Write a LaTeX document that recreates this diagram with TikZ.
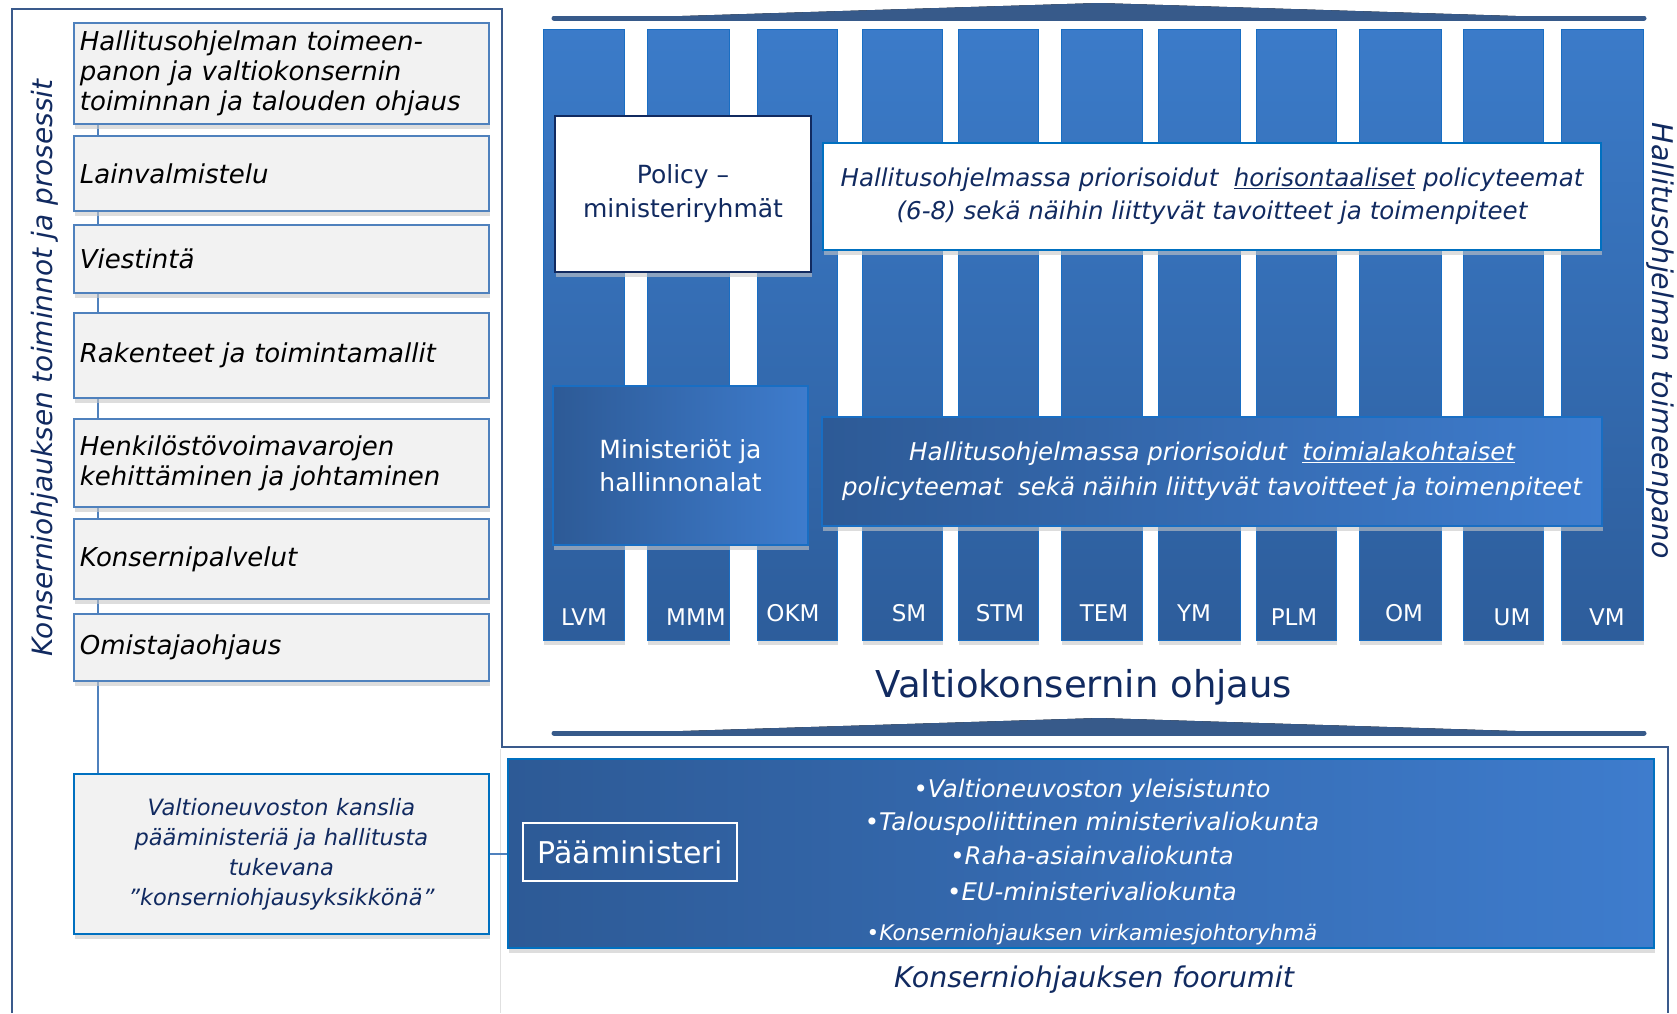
\documentclass[tikz,border=0pt]{standalone}
\usepackage{fontspec}
\setmainfont{DejaVu Sans}
\usetikzlibrary{shadows,backgrounds}

\definecolor{navy}{RGB}{17,42,96}
\definecolor{boxedge}{RGB}{79,129,189}
\definecolor{kansliaedge}{RGB}{0,112,192}
\definecolor{palegrey}{RGB}{242,242,242}
\definecolor{frameline}{RGB}{58,90,140}
\definecolor{bartop}{RGB}{59,123,201}
\definecolor{barbottom}{RGB}{45,93,155}
\definecolor{baredge}{RGB}{25,110,195}
\definecolor{deepblue}{RGB}{45,90,150}
\definecolor{lightblue}{RGB}{62,124,205}
\definecolor{bannerdark}{RGB}{55,90,138}
\definecolor{bannerlight}{RGB}{100,145,205}

\begin{document}
\begin{tikzpicture}[x=1pt, y=-1pt,
    softshadow/.style={drop shadow={shadow xshift=1pt, shadow yshift=-5pt, fill=black!22, opacity=0.6}},
    procbox/.style={draw=boxedge, line width=1.8pt, fill=palegrey, anchor=north west, text width=403pt,
        inner xsep=6pt, align=left, font=\fontsize{26}{30}\selectfont\itshape, softshadow},
    bar/.style={draw=baredge, line width=1pt, top color=bartop, bottom color=barbottom, softshadow},
    barlabel/.style={anchor=base, text=white, font=\fontsize{23}{26}\selectfont},
    bluebox/.style={draw=baredge, line width=1.2pt, left color=deepblue, right color=lightblue, text=white, align=center, softshadow},
    whitebox/.style={fill=white, align=center, text=navy, softshadow},
    forumitem/.style={anchor=base, text=white, font=\fontsize{24.3}{28}\selectfont\itshape},
    link/.style={draw=boxedge, line width=1.6pt},
    banner/.style={left color=bannerdark, middle color=bannerlight, right color=bannerdark}
]
\useasboundingbox (0,0) rectangle (1677,1013);

% Frames
\draw[frameline, line width=1.3pt] (12,1013) -- (12,9) -- (502,9) -- (502,747) -- (1668,747) -- (1668,1013);
\draw[black!12, line width=1pt] (500,749) -- (500,1013);

% Left column: functions and processes
\node[procbox, minimum height=101pt] (hallitus) at (73,22) {Hallitusohjelman toimeen-\\panon ja valtiokonsernin\\toiminnan ja talouden ohjaus};
\node[procbox, minimum height=75pt] (lainval) at (73,135) {Lainvalmistelu};
\node[procbox, minimum height=68pt] (viestinta) at (73,224) {Viestintä};
\node[procbox, minimum height=85pt] (rakenteet) at (73,312) {Rakenteet ja toimintamallit};
\node[procbox, minimum height=88pt] (henkilosto) at (73,418) {Henkilöstövoimavarojen\\kehittäminen ja johtaminen};
\node[procbox, minimum height=80pt] (palvelut) at (73,518) {Konsernipalvelut};
\node[procbox, minimum height=67pt] (omistaja) at (73,613) {Omistajaohjaus};
\node[procbox, draw=kansliaedge, minimum height=160pt, align=center, text=navy,
    font=\fontsize{22.5}{30}\selectfont\itshape] (kanslia) at (73,773)
    {Valtioneuvoston kanslia\\pääministeriä ja hallitusta\\tukevana\\”konserniohjausyksikkönä”};

\node[anchor=base, rotate=90, text=navy, font=\fontsize{28}{32}\selectfont\itshape] (prosessit) at (52,368)
    {Konserniohjauksen toiminnot ja prosessit};

% Spine behind the boxes
\coordinate (spine) at (98,0);
\begin{scope}[on background layer]
\draw[link] (spine |- hallitus.south) -- (spine |- kanslia.north);
\end{scope}

% Banners
\fill[banner] (554,20) -- (1099,3) -- (1644,20) -- cycle;
\draw[bannerdark, line width=5pt, line cap=round] (554,18) -- (1644,18);
\fill[banner] (554,735) -- (1099,718) -- (1644,735) -- cycle;
\draw[bannerdark, line width=5pt, line cap=round] (554,733) -- (1644,733);

% Ministry bars
\path[bar] (543,29) rectangle (624,640);
\path[bar] (647,29) rectangle (729,640);
\path[bar] (757,29) rectangle (837,640);
\path[bar] (862,29) rectangle (942,640);
\path[bar] (958,29) rectangle (1038,640);
\path[bar] (1061,29) rectangle (1142,640);
\path[bar] (1158,29) rectangle (1240,640);
\path[bar] (1256,29) rectangle (1336,640);
\path[bar] (1359,29) rectangle (1441,640);
\path[bar] (1463,29) rectangle (1543,640);
\path[bar] (1561,29) rectangle (1643,640);

\node[barlabel] (lvm) at (584,625) {LVM};
\node[barlabel] (mmm) at (696,625) {MMM};
\node[barlabel] (okm) at (793,621) {OKM};
\node[barlabel] (sm) at (909,621) {SM};
\node[barlabel] (stm) at (1000,621) {STM};
\node[barlabel] (tem) at (1104,621) {TEM};
\node[barlabel] (ym) at (1194,621) {YM};
\node[barlabel] (plm) at (1294,625) {PLM};
\node[barlabel] (om) at (1404,621) {OM};
\node[barlabel] (um) at (1512,625) {UM};
\node[barlabel] (vm) at (1607,625) {VM};

% Policy boxes across the bars
\node[whitebox, draw=navy, line width=2pt, minimum width=256pt, minimum height=156pt,
    font=\fontsize{25}{34}\selectfont] (policy) at (683,194) {Policy –\\ministeriryhmät};
\node[whitebox, draw=kansliaedge, line width=1.2pt, minimum width=778pt, minimum height=107pt,
    font=\fontsize{24.5}{33}\selectfont\itshape] (horisontaali) at (1212,196.5)
    {Hallitusohjelmassa priorisoidut\ \ \underline{horisontaaliset} policyteemat\\(6-8) sekä näihin liittyvät tavoitteet ja toimenpiteet};
\node[bluebox, minimum width=255pt, minimum height=159pt,
    font=\fontsize{25}{33}\selectfont] (ministeriot) at (680.5,465.5) {Ministeriöt ja\\hallinnonalat};
\node[bluebox, minimum width=780pt, minimum height=109pt,
    font=\fontsize{24.5}{35}\selectfont\itshape] (toimiala) at (1212,471.5)
    {Hallitusohjelmassa priorisoidut\ \ \underline{toimialakohtaiset}\\policyteemat\ \ sekä näihin liittyvät tavoitteet ja toimenpiteet};

\node[anchor=base, text=navy, font=\fontsize{37}{40}\selectfont] (ohjaus) at (1084,697) {Valtiokonsernin ohjaus};
\node[anchor=base, rotate=-90, text=navy, font=\fontsize{28.5}{32}\selectfont\itshape] (toimeenpano) at (1652,341)
    {Hallitusohjelman toimeenpano};

% Forums
\node[bluebox, draw=kansliaedge, minimum width=1146pt, minimum height=189pt] (forum) at (1081,853.5) {};
\node[draw=white, line width=1.5pt, minimum width=214pt, minimum height=58pt, text=white,
    font=\fontsize{30}{34}\selectfont] (paaministeri) at (630,852) {Pääministeri};
\node[forumitem] (yleisistunto) at (1092,797) {•Valtioneuvoston yleisistunto};
\node[forumitem] (talous) at (1092,830) {•Talouspoliittinen ministerivaliokunta};
\node[forumitem] (raha) at (1092,864) {•Raha-asiainvaliokunta};
\node[forumitem] (eu) at (1092,900) {•EU-ministerivaliokunta};
\node[forumitem, font=\fontsize{21.5}{24}\selectfont\itshape] (virkamies) at (1092,940) {•Konserniohjauksen virkamiesjohtoryhmä};
\node[anchor=base, text=navy, font=\fontsize{28.5}{32}\selectfont\itshape] (foorumit) at (1094,987) {Konserniohjauksen foorumit};

\draw[link] (kanslia.east) -- (forum.west |- kanslia.east);
\end{tikzpicture}
\end{document}
